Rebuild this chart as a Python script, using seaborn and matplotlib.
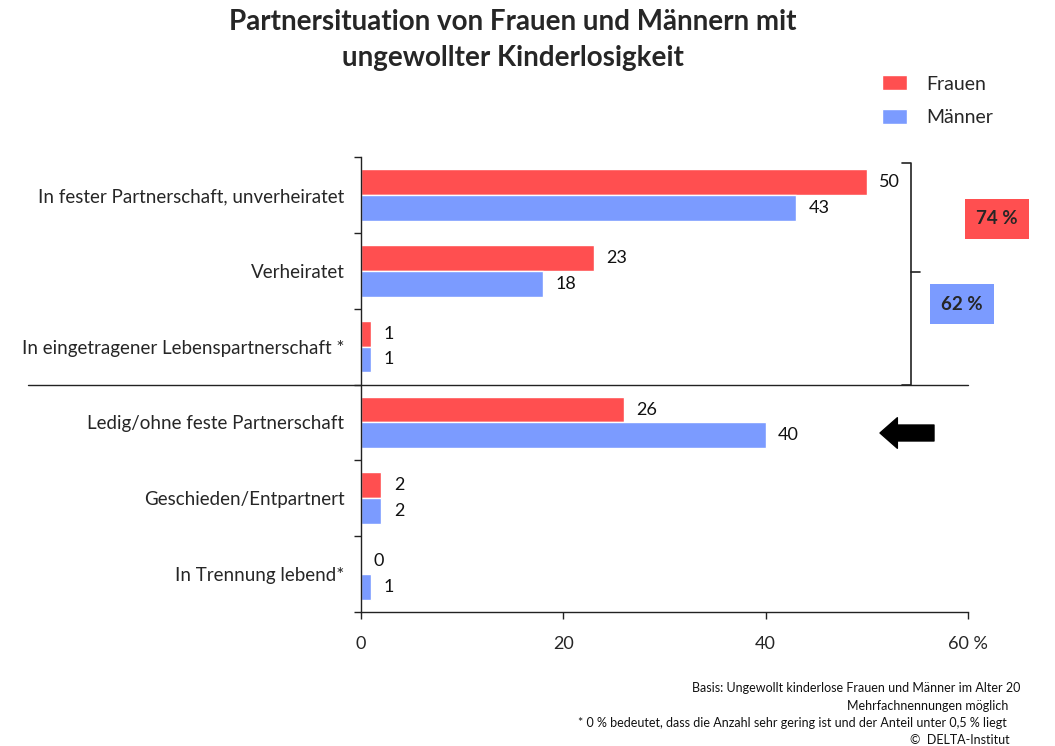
import matplotlib
matplotlib.use("Agg")
import matplotlib.pyplot as plt
import pandas as pd
import seaborn as sns

categories = [
    "In fester Partnerschaft, unverheiratet",
    "Verheiratet",
    "In eingetragener Lebenspartnerschaft *",
    "Ledig/ohne feste Partnerschaft",
    "Geschieden/Entpartnert",
    "In Trennung lebend*",
]
frauen = [50, 23, 1, 26, 2, 0]
maenner = [43, 18, 1, 40, 2, 1]
groups = ["Frauen", "Männer"]
colors = ["#FF4F50", "#7B9BFF"]
x_ticks = [0, 20, 40, 60]
x_ticklabels = ["0", "20", "40", "60 %"]
sum_frauen = "74 %"
sum_maenner = "62 %"
notes = [
    "Basis: Ungewollt kinderlose Frauen und Männer im Alter 20",
    "Mehrfachnennungen möglich",
    "* 0 % bedeutet, dass die Anzahl sehr gering ist und der Anteil unter 0,5 % liegt",
    "©  DELTA-Institut",
]

df = pd.DataFrame({
    "Kategorie": categories * 2,
    "Gruppe": [groups[0]] * len(categories) + [groups[1]] * len(categories),
    "Wert": frauen + maenner,
})

sns.set_style("white")
plt.rcParams["font.family"] = ["Lato", "DejaVu Sans"]

fig = plt.figure(figsize=(10.55, 7.46), dpi=100)
ax = fig.add_axes([361 / 1055, 1 - 612 / 746, 607 / 1055, 455 / 746])

sns.barplot(data=df, x="Wert", y="Kategorie", hue="Gruppe", order=categories,
            hue_order=groups, palette=colors, width=0.68, orient="h",
            saturation=1, ax=ax, legend=True)

for cont in ax.containers:
    ax.bar_label(cont, padding=9, fontsize=13, color="#111111")

ax.set_xlim(0, 60)
ax.set_ylim(5.5, -0.5)
ax.set_xlabel("")
ax.set_ylabel("")
ax.set_xticks(x_ticks)
ax.set_xticklabels(x_ticklabels, fontsize=13)
ax.set_yticks(range(len(categories)))
ax.set_yticklabels(categories, fontsize=13.5)
ax.set_yticks([i - 0.5 for i in range(len(categories) + 1)], minor=True)
ax.tick_params(axis="y", which="major", length=0, pad=12)
ax.tick_params(axis="y", which="minor", length=5, width=1, color="#222222", left=True)
ax.tick_params(axis="x", length=5, width=1, color="#222222", pad=12, bottom=True)
for s in ["top", "right"]:
    ax.spines[s].set_visible(False)
for s in ["left", "bottom"]:
    ax.spines[s].set_color("#222222")
    ax.spines[s].set_linewidth(1)

# separator line between partnered and single groups
ax.plot([-0.549, 1.0], [2.5, 2.5], color="#222222", lw=1,
        transform=ax.get_yaxis_transform(), clip_on=False)

# bracket
bx = 54.4
ax.plot([bx - 0.9, bx, bx, bx - 0.9], [-0.42, -0.42, 2.5, 2.5], color="#222222",
        lw=1.2, clip_on=False)
ax.plot([bx, bx + 0.9], [1.02, 1.02], color="#222222", lw=1.2, clip_on=False)

# sum boxes
fig.text(997 / 1055, 1 - 219 / 746, sum_frauen, ha="center", va="center",
         fontsize=13.5, weight="bold",
         bbox=dict(boxstyle="square,pad=0.6", fc=colors[0], ec="none"))
fig.text(962 / 1055, 1 - 304 / 746, sum_maenner, ha="center", va="center",
         fontsize=13.5, weight="bold",
         bbox=dict(boxstyle="square,pad=0.6", fc=colors[1], ec="none"))

# arrow
ax.annotate("", xy=(880, 746 - 433), xytext=(934, 746 - 433),
            xycoords="figure pixels", textcoords="figure pixels",
            arrowprops=dict(arrowstyle="simple,head_length=1.25,head_width=2.2,tail_width=1.15",
                            color="black", mutation_scale=10, shrinkA=0, shrinkB=0))

# legend
handles, labels = ax.get_legend_handles_labels()
ax.legend(handles, labels, loc="upper left", bbox_to_anchor=(864 / 1055, 1 - 58 / 746),
          bbox_transform=fig.transFigure, frameon=False, fontsize=14,
          handlelength=1.3, handleheight=0.8, handletextpad=1.0, labelspacing=0.85)

# title
fig.text(513 / 1055, 1 - 22 / 746, "Partnersituation von Frauen und Männern mit",
         ha="center", va="center", fontsize=20, weight="bold")
fig.text(513 / 1055, 1 - 58 / 746, "ungewollter Kinderlosigkeit",
         ha="center", va="center", fontsize=20, weight="bold")

# footnotes
note_pos = [(1020, 688), (1008, 706), (1007, 723), (1010, 740)]
for txt, (px, py) in zip(notes, note_pos):
    fig.text(px / 1055, 1 - py / 746, txt, ha="right", va="center", fontsize=9,
             color="#111111")

fig.savefig("out.png", dpi=100)
plt.close(fig)
